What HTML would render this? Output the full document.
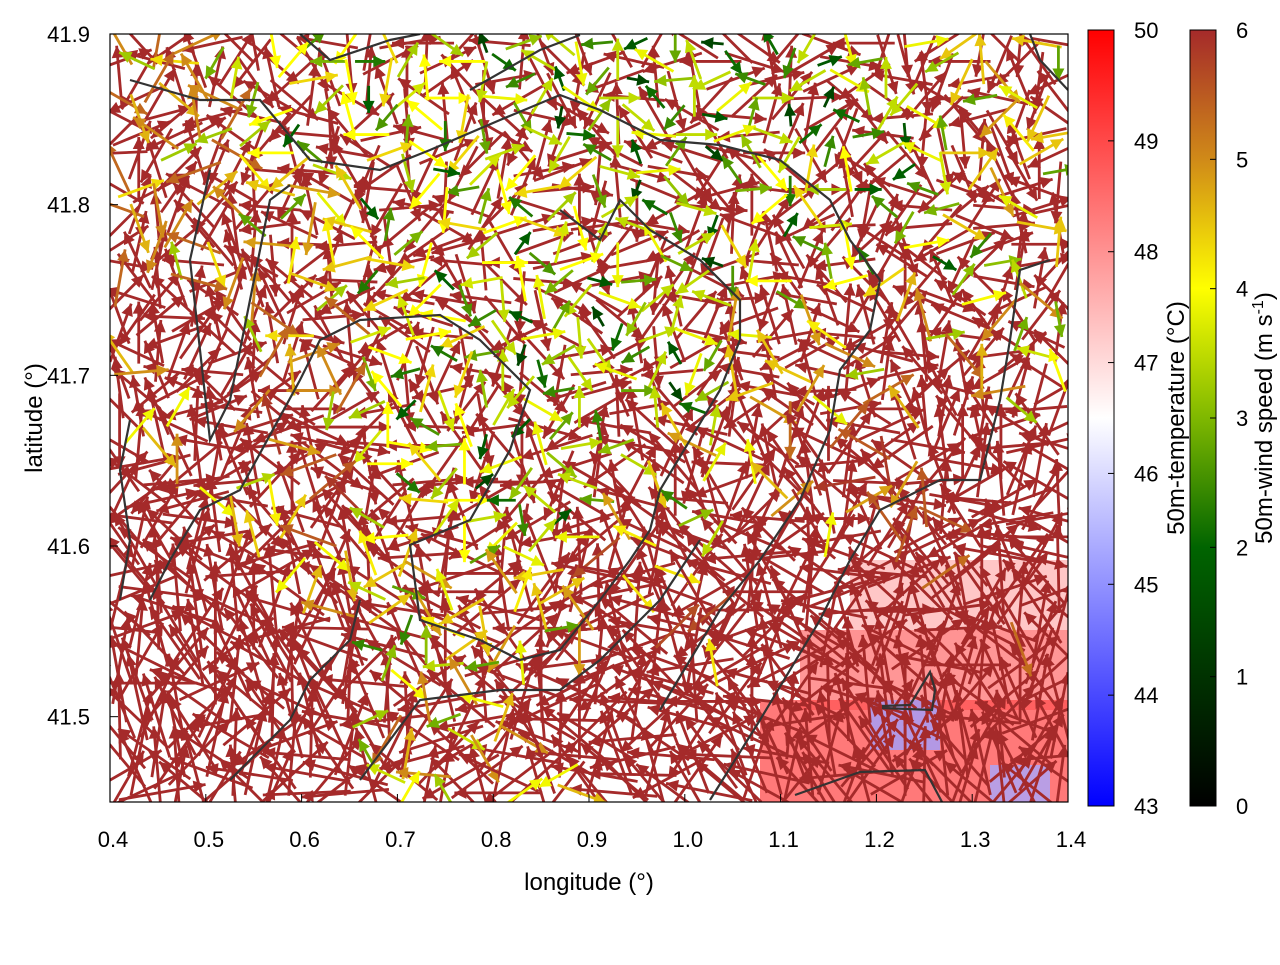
<!DOCTYPE html>
<html><head><meta charset="utf-8"><style>
body{margin:0;background:#fff;font-family:"Liberation Sans",sans-serif}
svg text{font-family:"Liberation Sans",sans-serif;fill:#000}
</style></head><body>
<svg id="chart" width="1280" height="960" viewBox="0 0 1280 960" xmlns="http://www.w3.org/2000/svg">
<defs>
<linearGradient id="tgrad" x1="0" y1="1" x2="0" y2="0">
<stop offset="0" stop-color="#0000ff"/><stop offset="0.5" stop-color="#ffffff"/><stop offset="1" stop-color="#ff0000"/>
</linearGradient>
<linearGradient id="wgrad" x1="0" y1="1" x2="0" y2="0">
<stop offset="0" stop-color="#000000"/><stop offset="0.333" stop-color="#006400"/><stop offset="0.5" stop-color="#7fb800"/><stop offset="0.667" stop-color="#ffff00"/><stop offset="0.833" stop-color="#d08a18"/><stop offset="1" stop-color="#a52a2a"/>
</linearGradient>
<clipPath id="plotclip"><rect x="110" y="34" width="958" height="768"/></clipPath>
</defs>
<g id="bg" clip-path="url(#plotclip)"></g>
<g id="arrows" clip-path="url(#plotclip)"></g>
<g id="contours2" clip-path="url(#plotclip)"></g>
<rect x="110" y="34" width="958" height="768" fill="none" stroke="#000" stroke-width="1.2"/>
<g id="axes"></g>
<text x="589" y="890" font-size="24" text-anchor="middle">longitude (°)</text>
<text transform="translate(42,418) rotate(-90)" font-size="24" text-anchor="middle">latitude (°)</text>
<rect x="1088" y="30" width="26" height="776" fill="url(#tgrad)" stroke="#000"/>
<rect x="1190" y="30" width="26" height="776" fill="url(#wgrad)" stroke="#000"/>
<g id="cbticks"></g>
<text transform="translate(1184,418) rotate(-90)" font-size="24" text-anchor="middle">50m-temperature (°C)</text>
<text transform="translate(1272,418) rotate(-90)" font-size="24" text-anchor="middle">50m-wind speed (m s<tspan dy="-9" font-size="16">-1</tspan><tspan dy="9">)</tspan></text>
</svg>
<script>
const xTicks=[0.4,0.5,0.6,0.7,0.8,0.9,1.0,1.1,1.2,1.3,1.4];
const yTicks=[41.5,41.6,41.7,41.8,41.9];
const tempTicks=[43,44,45,46,47,48,49,50];
const windTicks=[0,1,2,3,4,5,6];
// coarse grid: typical speed of the slower arrows in each region (m/s)
const speedGrid=[
[5,4,4,3.5,3.5,3.5,3.5,4.5],
[5,4.5,4,4,3.5,4,4,4.5],
[6,5,4,3.5,3.5,4.5,5,5],
[6,5.5,4,3.5,4.5,6,5.5,6],
[6,6,4.5,4.5,6,6,6,6],
[6,6,5,6,6,6,6,6]];
// coarse grid: share of slow (non-brown) arrows per region (0..1)
const slowShare=[
[0.35,0.4,0.4,0.45,0.45,0.45,0.4,0.3],
[0.25,0.35,0.4,0.45,0.4,0.4,0.35,0.25],
[0.1,0.3,0.4,0.45,0.4,0.25,0.2,0.15],
[0.05,0.2,0.4,0.45,0.3,0.15,0.1,0.08],
[0,0.08,0.35,0.35,0.08,0.03,0.03,0.03],
[0,0.03,0.25,0.08,0,0,0,0]];
// coarse wind direction grid (degrees, 0 = east, 90 = north)
const dirGrid=[
[120,200,60,300,150,40,250,190],
[80,140,230,20,310,100,160,30],
[100,60,170,250,40,120,70,110],
[110,80,150,200,120,100,70,90],
[100,110,130,70,140,120,95,80],
[95,105,120,130,135,115,100,90]];
const dirJitter=[0,55,-40,120,-95,25,170,-150,80,-20,200,-60,35];
const dirJitter2=[0,-30,45,-15,60,-50,20,-70,10,35,-25];
const speedJitter=[0,-1.5,0.5,-2.5,0,-1,0.5,-3,0,-0.5,-2,0];
const rankCycle=[0.05,0.62,0.31,0.88,0.17,0.74,0.43,0.96,0.24,0.55,0.11,0.81,0.37,0.68,0.02,0.49,0.93];
const lon0=0.4,lon1=1.4,lat0=41.45,lat1=41.9;
const X=v=>110+(v-lon0)/(lon1-lon0)*958;
const Y=v=>34+(lat1-v)/(lat1-lat0)*768;
const NS="http://www.w3.org/2000/svg";
function mk(tag,attrs,parent){const e=document.createElementNS(NS,tag);for(const k in attrs)e.setAttribute(k,attrs[k]);parent.appendChild(e);return e;}
const axes=document.getElementById('axes');
xTicks.forEach(t=>{const x=X(t);
 const l=mk('line',{x1:x,y1:802,x2:x,y2:794,stroke:'#000'},axes);
 
 
 const tx=mk('text',{x:x+3,y:847,'font-size':22,'text-anchor':'middle'},axes);tx.textContent=t.toFixed(1);
 
 });
yTicks.forEach(t=>{const y=Y(t);
 const l=mk('line',{x1:110,y1:y,x2:118,y2:y,stroke:'#000'},axes);
 
 
 const tx=mk('text',{x:90,y:y+8,'font-size':22,'text-anchor':'end'},axes);tx.textContent=t.toFixed(1);
 
 });
const cb=document.getElementById('cbticks');
tempTicks.forEach(t=>{const y=806-(t-43)/7*776;
 const l=mk('line',{x1:1108,y1:y,x2:1114,y2:y,stroke:'#000'},cb);
 
 
 const tx=mk('text',{x:1134,y:y+8,'font-size':22},cb);tx.textContent=t;
 
 });
windTicks.forEach(t=>{const y=806-t/6*776;
 const l=mk('line',{x1:1210,y1:y,x2:1216,y2:y,stroke:'#000'},cb);
 
 
 const tx=mk('text',{x:1236,y:y+8,'font-size':22},cb);tx.textContent=t;
 
 });
const bg=document.getElementById('bg');
const patches=[[760,700,310,110,'#ff4040',0.7],[800,630,270,80,'#ff5050',0.6],[850,560,218,80,'#ff9090',0.5],[870,700,70,50,'#a0a0ff',0.8],[990,765,60,40,'#a8a8ff',0.8]];
patches.forEach(p=>{const r=mk('rect',{x:p[0],y:p[1],width:p[2],height:p[3],fill:p[4],opacity:p[5]},bg);
 
 });
function wcol(s){const st=[[0,[0,0,0]],[2,[0,100,0]],[3,[127,184,0]],[4,[255,255,0]],[5,[208,138,24]],[6,[165,42,42]]];
 s=Math.max(0,Math.min(6,s));for(let i=1;i<st.length;i++){if(s<=st[i][0]){const a=st[i-1],b=st[i],f=(s-a[0])/(b[0]-a[0]);
 return 'rgb('+a[1].map((c,k)=>Math.round(c+(b[1][k]-c)*f)).join(',')+')';}}return 'rgb(165,42,42)';}
const ag=document.getElementById('arrows');
let n=0;const cols=50,rows=42;
const brown=[],slow=[];
for(let r=0;r<rows;r++)for(let c=0;c<cols;c++){
 const lon=lon0+(c+0.5)/cols*(lon1-lon0), lat=lat1-(r+0.5)/rows*(lat1-lat0);
 const gi=Math.min(5,Math.floor(r/rows*6)), gj=Math.min(7,Math.floor(c/cols*8));
 const isSlow=rankCycle[n%rankCycle.length]<slowShare[gi][gj];
 let s=6;
 if(isSlow) s=Math.max(0.8,speedGrid[gi][gj]+speedJitter[n%speedJitter.length]*0.7);
 const jit=dirJitter[n%dirJitter.length];
 const jit2=dirJitter2[(c*3+r*7)%dirJitter2.length];
 const dir=(dirGrid[gi][gj]+(isSlow?jit:(jit*(gi>=4?0.25:0.5)+jit2)))*Math.PI/180;
 n++;
 (isSlow?slow:brown).push([X(lon),Y(lat),s,dir,gi]);
}
function draw(a){
 const [x0,y0,s,dir,gi]=a;const L=s>=5.9?(gi>=4?88:gi===3?75:62):10+s*9;
 const x1=x0+Math.cos(dir)*L*0.55,y1=y0-Math.sin(dir)*L*0.55;
 const col=wcol(s);
 const g=mk('g',{},ag);
 
 
 mk('line',{x1:x0-Math.cos(dir)*L*0.45,y1:y0+Math.sin(dir)*L*0.45,x2:x1,y2:y1,stroke:col,'stroke-width':2.8},g);
 const h=12,w=6,bx=x1-Math.cos(dir)*h,by=y1+Math.sin(dir)*h;
 const px=Math.sin(dir)*w,py=Math.cos(dir)*w;
 mk('polygon',{points:`${x1},${y1} ${bx+px},${by+py} ${bx-px},${by-py}`,fill:col},g);
}
brown.forEach(draw);slow.forEach(draw);
const cg=document.getElementById('contours2');
const lines=[
"M130,80 L200,100 L260,100 L310,160 L380,170 L430,150 L500,120 L560,95 L600,110 L660,140 L720,145 L780,160 L830,200 L850,240 L880,280 L870,330 L840,370 L830,430 L800,500 L760,560 L720,610 L690,660 L660,710",
"M210,170 L190,260 L200,350 L210,440 L230,400 L250,300 L270,200 L290,185",
"M300,34 L330,60 L390,40 L420,34",
"M470,90 L540,50 L580,35",
"M1030,34 L1040,60 L1068,90",
"M150,600 L170,560 L200,510 L240,490 L300,380 L320,340 L360,320 L440,315 L480,340 L500,360 L530,390 L510,450 L470,520 L410,545 L420,620 L480,640 L520,660 L560,650 L600,600 L630,560 L650,530 L660,490 L720,390 L740,340 L740,300 L700,260 L650,230 L620,200 L600,240 L560,210",
"M230,780 L290,720 L310,680 L350,640 L360,600",
"M360,780 L420,700 L500,690 L560,690 L600,660 L660,600 L700,540",
"M710,800 L760,720 L820,620 L850,560 L880,510 L940,480 L980,480 L1000,400 L1010,340 L1020,270 L1050,260",
"M795,795 L860,772 L925,770 L942,802",
"M882,706 L910,705 L930,672 L935,690 L932,710 L882,708",
"M130,420 L120,470 L130,540 L120,600"];
lines.forEach(d=>{const p=mk('path',{d:d,fill:'none',stroke:'#333',"stroke-width":2.2},cg);
 
 });
</script>
</body></html>
